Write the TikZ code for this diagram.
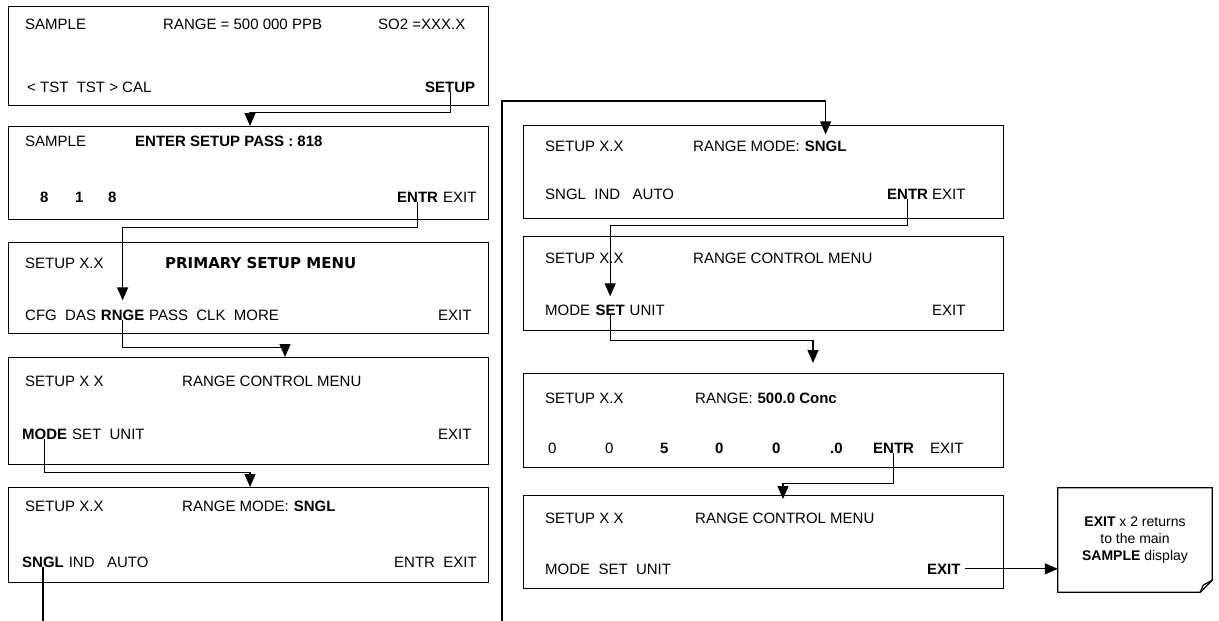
\documentclass[tikz,border=0pt]{standalone}
\usepackage{fontspec}
\setmainfont{Liberation Sans}
\newfontfamily\menufont{DejaVu Sans}
\usetikzlibrary{arrows.meta, positioning, calc}

\newcommand{\lcd}{\fontsize{15}{18}\selectfont}

\begin{document}
\begin{tikzpicture}[
    x=1pt, y=1pt,
    screen/.style={rectangle, draw, line width=1.2pt, minimum width=480pt, anchor=north west, inner sep=0pt},
    key/.style={anchor=base west, inner sep=0pt, font=\lcd},
    bkey/.style={key, font=\lcd\bfseries},
    arrow/.style={->, line width=1.2pt, >={Triangle[length=13pt, width=11pt]}},
    link/.style={line width=1.2pt}
]
    \useasboundingbox (0,0) rectangle (1219,-621);

    % Left column screens
    \node[screen, minimum height=99pt] (b1) at (8,-6) {};
    \node[screen, minimum height=93pt] (b2) at (8,-126) {};
    \node[screen, minimum height=91pt] (b3) at (8,-242) {};
    \node[screen, minimum height=107pt] (b4) at (8,-357) {};
    \node[screen, minimum height=95pt] (b5) at (8,-487) {};

    % Right column screens
    \node[screen, minimum height=93pt] (r1) at (523,-125) {};
    \node[screen, minimum height=94pt] (r2) at (523,-236) {};
    \node[screen, minimum height=94pt] (r3) at (523,-373) {};
    \node[screen, minimum height=93pt] (r4) at (523,-495) {};

    % Screen 1
    \node[key] (b1a) at (25,-30) {SAMPLE};
    \node[key] (b1b) at (163,-30) {RANGE = 500 000 PPB};
    \node[key] (b1c) at (378,-30) {SO2 =XXX.X};
    \node[key] (b1d) at (27,-92) {< TST\ \ TST > CAL};
    \node[bkey] (setup) at (425,-92) {SETUP};

    % Screen 2
    \node[key] (b2a) at (25,-146) {SAMPLE};
    \node[bkey] (b2b) at (135,-146) {ENTER SETUP PASS : 818};
    \node[bkey] (b2d1) at (40,-202) {8};
    \node[bkey] (b2d2) at (75,-202) {1};
    \node[bkey] (b2d3) at (108,-202) {8};
    \node[bkey] (entrB) at (397,-202) {ENTR};
    \node[key] (b2x) at (443,-202) {EXIT};

    % Screen 3
    \node[key] (b3a) at (25,-268) {SETUP X.X};
    \node[key, font=\menufont\fontsize{15}{18}\selectfont\bfseries] (b3b) at (165,-268) {PRIMARY SETUP MENU};
    \node[key] (b3c) at (25,-320) {CFG\ \ DAS};
    \node[bkey, base right=4.5pt of b3c] (rnge) {RNGE};
    \node[key, base right=4.5pt of rnge] (b3d) {PASS\ \ CLK\ \ MORE};
    \node[key] (b3x) at (438,-320) {EXIT};

    % Screen 4
    \node[key] (b4a) at (25,-386) {SETUP X X};
    \node[key] (b4b) at (182,-386) {RANGE CONTROL MENU};
    \node[bkey] (modeB) at (22,-439) {MODE};
    \node[key, base right=4.5pt of modeB] (b4c) {SET\ \ UNIT};
    \node[key] (b4x) at (438,-439) {EXIT};

    % Screen 5
    \node[key] (b5a) at (25,-511) {SETUP X.X};
    \node[key] (b5b) at (182,-511) {RANGE MODE:};
    \node[bkey, base right=4.5pt of b5b] (b5c) {SNGL};
    \node[bkey] (snglB) at (22,-567) {SNGL};
    \node[key, base right=4.5pt of snglB] (b5d) {IND\ \ \ AUTO};
    \node[key] (b5x) at (394,-567) {ENTR\ \ EXIT};

    % Screen 6
    \node[key] (r1a) at (545,-151) {SETUP X.X};
    \node[key] (r1b) at (693,-151) {RANGE MODE:};
    \node[bkey, base right=4.5pt of r1b] (snglR) {SNGL};
    \node[key] (r1c) at (545,-199) {SNGL\ \ IND\ \ \ AUTO};
    \node[bkey] (entrR) at (887,-199) {ENTR};
    \node[key] (r1x) at (932,-199) {EXIT};

    % Screen 7
    \node[key] (r2a) at (545,-263) {SETUP X.X};
    \node[key] (r2b) at (693,-263) {RANGE CONTROL MENU};
    \node[key] (r2c) at (545,-315) {MODE};
    \node[bkey, base right=5pt of r2c] (setR) {SET};
    \node[key, base right=4.5pt of setR] (r2d) {UNIT};
    \node[key] (r2x) at (932,-315) {EXIT};

    % Screen 8
    \node[key] (r3a) at (545,-403) {SETUP X.X};
    \node[key] (r3b) at (695,-403) {RANGE:};
    \node[bkey, base right=4.5pt of r3b] (r3c) {500.0 Conc};
    \node[key] (r3d1) at (548,-453) {0};
    \node[key] (r3d2) at (605,-453) {0};
    \node[bkey] (r3d3) at (660,-453) {5};
    \node[bkey] (r3d4) at (715,-453) {0};
    \node[bkey] (r3d5) at (772,-453) {0};
    \node[bkey] (r3d6) at (830,-453) {.0};
    \node[bkey] (entrC) at (873,-453) {ENTR};
    \node[key] (r3x) at (930,-453) {EXIT};

    % Screen 9
    \node[key] (r4a) at (545,-523) {SETUP X X};
    \node[key] (r4b) at (695,-523) {RANGE CONTROL MENU};
    \node[key] (r4c) at (545,-574) {MODE\ \ SET\ \ UNIT};
    \node[bkey] (exitR) at (927,-574) {EXIT};

    % Note
    \node[minimum width=154pt, minimum height=104pt, inner sep=0pt, align=center,
          font=\fontsize{14}{17}\selectfont] (note) at (1135,-540)
        {\textbf{EXIT} x 2 returns\\to the main\\\textbf{SAMPLE} display};
    \draw[link] (note.north west) -- (note.north east) -- ([yshift=12pt]note.south east)
        -- ([xshift=-12pt]note.south east) -- (note.south west) -- cycle;
    \draw[link] ([yshift=12pt]note.south east) -- ([xshift=-9pt,yshift=7pt]note.south east)
        -- ([xshift=-12pt]note.south east);

    % Entry points on screen tops
    \coordinate (b2in) at ($(b2.north west)+(242,0)$);
    \coordinate (b4in) at ($(b4.north west)+(277,0)$);
    \coordinate (b5in) at ($(b5.north west)+(242,0)$);
    \coordinate (r3in) at ($(r3.north west)+(290,10)$);
    \coordinate (r4in) at ($(r4.north west)+(260,-4)$);
    \coordinate (pgbottom) at (0,-621);
    \coordinate (pgin) at (502,-621);

    % Key presses
    \draw[arrow] (setup.south) -- ++(0,-20) -| (b2in);
    \draw[arrow] (entrB.south) -- ++(0,-25) -| ([yshift=9pt]rnge.north);
    \draw[arrow] (rnge.south) -- ++(0,-27) -| (b4in);
    \draw[arrow] (modeB.south) -- ++(0,-33) -| (b5in);
    \draw[link] (snglB.south) -- (snglB.south |- pgbottom);
    \draw[arrow] (pgin) |- ([yshift=24pt]r1.north) -| ([yshift=6pt]snglR.north);
    \draw[arrow] (entrR.south) -- ++(0,-26) -| ([yshift=8pt]setR.north);
    \draw[arrow] (setR.south) -- ++(0,-25) -| (r3in);
    \draw[arrow] (entrC.south) -- ++(0,-30) -| (r4in);
    \draw[arrow] ([xshift=4pt]exitR.east) -- (exitR.east -| note.west);
\end{tikzpicture}
\end{document}
